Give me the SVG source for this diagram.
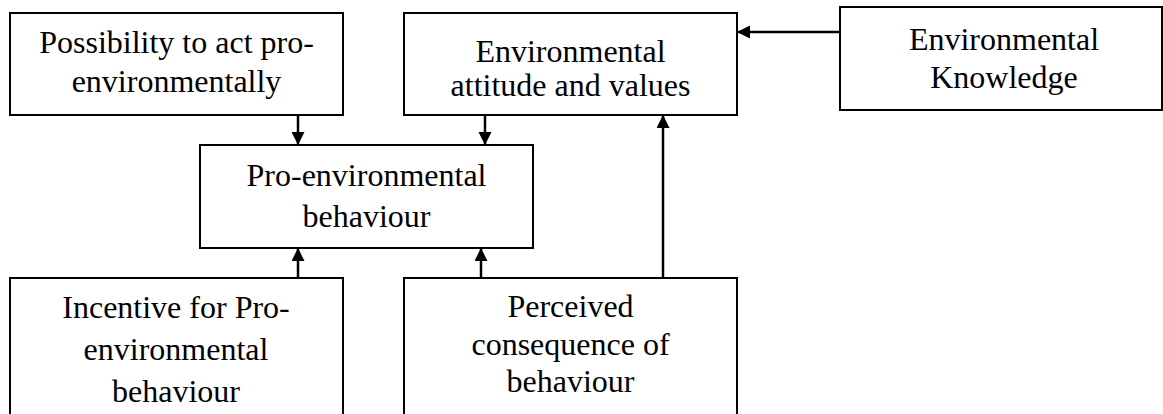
<svg xmlns="http://www.w3.org/2000/svg" width="1163" height="414" viewBox="0 0 1163 414">
<style>
.box{fill:#fff;stroke:#000;stroke-width:2}
.t{font-family:"Liberation Serif","Times New Roman",serif;font-size:32px;fill:#000;text-anchor:middle}
.c{stroke:#000;stroke-width:2.5;fill:none;marker-end:url(#ah)}
</style>
<defs>
<marker id="ah" markerWidth="14" markerHeight="14" refX="12" refY="6.5" orient="auto" markerUnits="userSpaceOnUse">
<path d="M0,0 L13,6.5 L0,13 Z" fill="#000"/>
</marker>
</defs>
<rect width="1163" height="414" fill="#fff"/>
<g id="possibility">
<rect class="box" x="10" y="13" width="333" height="102"/>
<text class="t" x="176.5" y="53">Possibility to act pro-</text>
<text class="t" x="176.5" y="92">environmentally</text>
</g>
<g id="attitude">
<rect class="box" x="404" y="13" width="333" height="102"/>
<text class="t" x="570.5" y="62">Environmental</text>
<text class="t" x="570.5" y="96">attitude and values</text>
</g>
<g id="knowledge">
<rect class="box" x="840" y="7" width="322" height="103"/>
<text class="t" x="1004" y="50">Environmental</text>
<text class="t" x="1004" y="88">Knowledge</text>
</g>
<g id="behaviour">
<rect class="box" x="200" y="145" width="333" height="103"/>
<text class="t" x="366.5" y="186">Pro-environmental</text>
<text class="t" x="366.5" y="227">behaviour</text>
</g>
<g id="incentive">
<rect class="box" x="10" y="278" width="333" height="150"/>
<text class="t" x="176" y="318">Incentive for Pro-</text>
<text class="t" x="176" y="360">environmental</text>
<text class="t" x="176" y="402">behaviour</text>
</g>
<g id="consequence">
<rect class="box" x="404" y="278" width="333" height="150"/>
<text class="t" x="570.5" y="317">Perceived</text>
<text class="t" x="570.5" y="355">consequence of</text>
<text class="t" x="570.5" y="392">behaviour</text>
</g>
<g id="connectors">
<line class="c" x1="298" y1="116" x2="298" y2="144"/>
<line class="c" x1="485" y1="116" x2="485" y2="144"/>
<line class="c" x1="839" y1="32" x2="738" y2="32"/>
<line class="c" x1="298" y1="277" x2="298" y2="249"/>
<line class="c" x1="481" y1="277" x2="481" y2="249"/>
<line class="c" x1="663" y1="277" x2="663" y2="116"/>
</g>
</svg>
